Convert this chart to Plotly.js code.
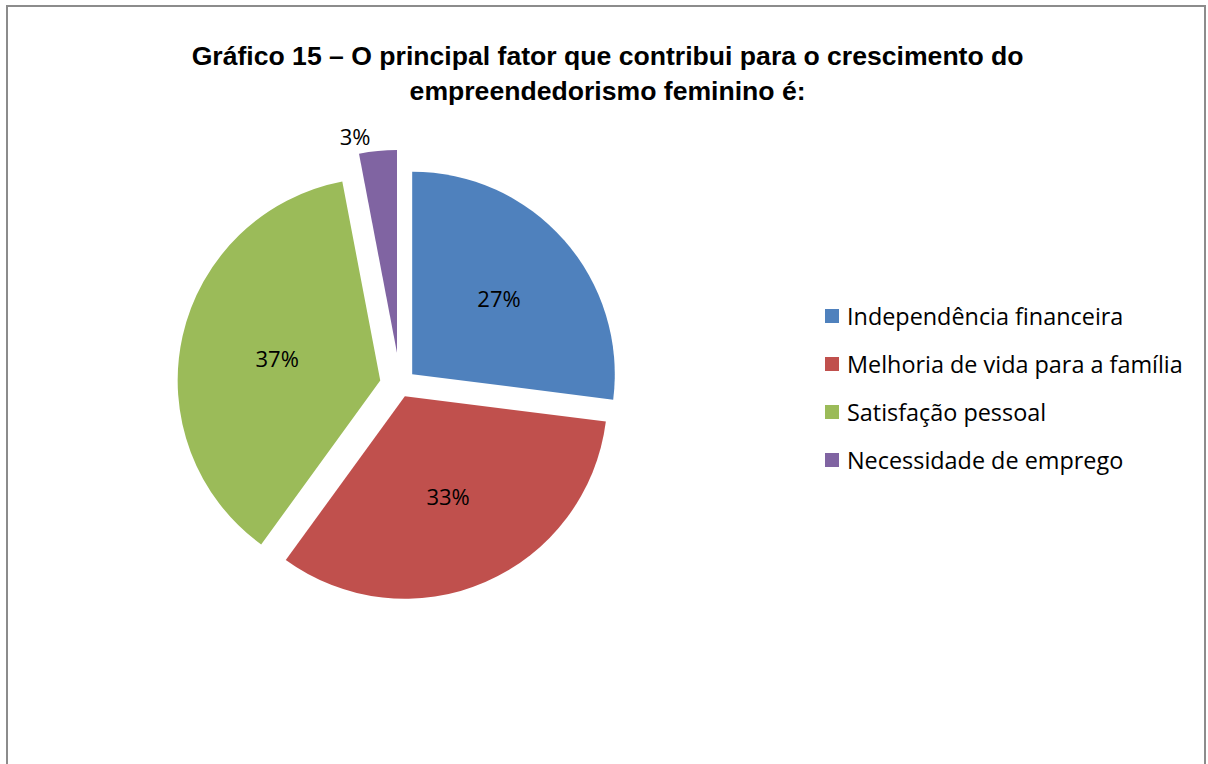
<!DOCTYPE html>
<html>
<head>
<meta charset="utf-8">
<script src="https://cdn.plot.ly/plotly-3.0.1.min.js"></script>
<style>
  html, body { margin: 0; padding: 0; background: #ffffff; }
  #frame { position: absolute; left: 6px; top: 5px; width: 1200px; height: 780px;
           border-left: 2px solid #8c8c8c; border-top: 2px solid #8c8c8c; border-right: 2px solid #8c8c8c;
           box-sizing: border-box; pointer-events: none; z-index: 10; }
  #chart { width: 1208px; height: 764px; }
</style>
</head>
<body>
<div id="frame"></div>
<div id="chart"></div>
<script>
const categories = ["Independência financeira", "Melhoria de vida para a família", "Satisfação pessoal", "Necessidade de emprego"];
const percentages = [27, 33, 37, 3];
const sliceColors = ["#4F81BD", "#C0504D", "#9BBB59", "#8064A2"];
const titleText = "<b>Gráfico 15 – O principal fator que contribui para o crescimento do<br>empreendedorismo feminino é:</b>";

const labelFont = "'Open Sans', 'Noto Sans', sans-serif";

const trace = {
  type: "pie",
  labels: categories,
  values: percentages,
  sort: false,
  direction: "clockwise",
  rotation: 0,
  pull: [0.08, 0.06, 0.1, 0.16],
  marker: { colors: sliceColors, line: { color: "#ffffff", width: 0 } },
  textinfo: "percent",
  texttemplate: "%{percent:.0%}",
  textposition: ["inside", "inside", "inside", "outside"],
  insidetextorientation: "horizontal",
  textfont: { family: labelFont, size: 22, color: "#000000" },
  insidetextfont: { family: labelFont, size: 22, color: "#000000" },
  outsidetextfont: { family: labelFont, size: 22, color: "#000000" },
  hoverinfo: "label+percent",
  domain: { x: [0.1366, 0.5257], y: [0.1885, 0.8037] }
};

// Legend drawn as text + colour swatches, built from the category list
const legendX = 845, legendTop = 316, legendStep = 48, swatch = 14;
const annotations = categories.map((c, i) => ({
  text: c,
  xref: "paper", yref: "paper",
  x: legendX / 1208, y: 1 - (legendTop + i * legendStep) / 764,
  xanchor: "left", yanchor: "middle",
  showarrow: false,
  font: { family: labelFont, size: 23.4, color: "#000000" }
}));
const shapes = sliceColors.map((col, i) => {
  const cy = legendTop + i * legendStep;
  return {
    type: "rect", xref: "paper", yref: "paper",
    x0: 825 / 1208, x1: (825 + swatch) / 1208,
    y0: 1 - (cy - swatch / 2) / 764, y1: 1 - (cy + swatch / 2) / 764,
    fillcolor: col, line: { width: 0 }
  };
});

const layout = {
  width: 1208, height: 764,
  margin: { l: 0, r: 0, t: 0, b: 0 },
  paper_bgcolor: "#ffffff",
  title: {
    text: titleText,
    font: { family: "'Liberation Sans', Arial, sans-serif", size: 26.6, color: "#000000" },
    x: 0.503, xanchor: "center",
    y: 0.915, yanchor: "middle"
  },
  showlegend: false,
  annotations: annotations,
  shapes: shapes
};

Plotly.newPlot("chart", [trace], layout, { displayModeBar: false, staticPlot: true });
</script>
</body>
</html>
